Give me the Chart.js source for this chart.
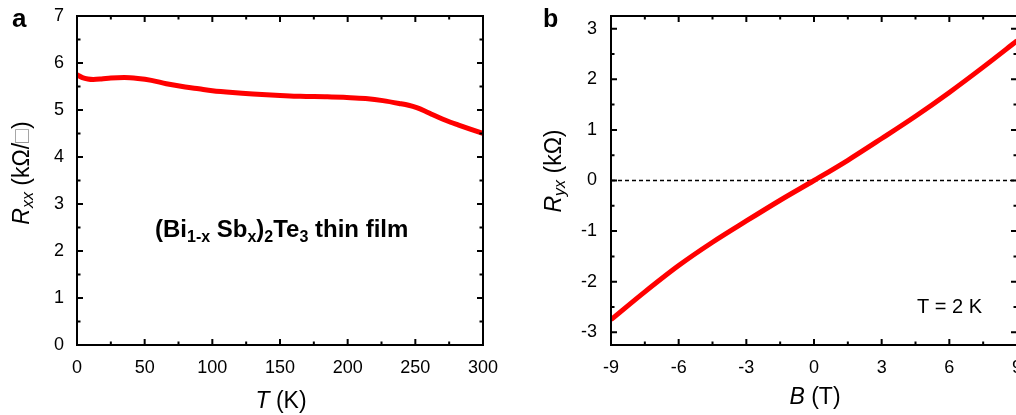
<!DOCTYPE html>
<html>
<head>
<meta charset="utf-8">
<script src="https://cdn.jsdelivr.net/npm/chart.js@4.4.1/dist/chart.umd.min.js"></script>
<style>
  html, body { margin: 0; padding: 0; background: #fff; overflow: hidden; }
  #wrap { position: relative; width: 1016px; height: 415px; overflow: hidden; }
  canvas { position: absolute; top: 0; }
  #chartA { left: 0; }
  #chartB { left: 500px; }
</style>
</head>
<body>
<div id="wrap">
  <canvas id="chartA" width="500" height="415"></canvas>
  <canvas id="chartB" width="540" height="415"></canvas>
</div>
<script>
// panel a: sheet resistance vs temperature
const tempK = [0, 4, 8, 12, 18, 25, 35, 45, 55, 66, 80, 90, 100, 115, 130, 150, 165, 185, 202, 215, 226, 238, 245, 251, 257, 263, 270, 276, 282, 290, 300];
const rxx = [5.75, 5.69, 5.66, 5.65, 5.66, 5.68, 5.69, 5.67, 5.63, 5.56, 5.49, 5.45, 5.41, 5.37, 5.34, 5.31, 5.29, 5.28, 5.26, 5.24, 5.20, 5.14, 5.10, 5.05, 4.98, 4.90, 4.81, 4.74, 4.68, 4.60, 4.50];
const tempTicks = [0, 50, 100, 150, 200, 250, 300];
const tempMinor = [25, 75, 125, 175, 225, 275];
const rxxTicks = [0, 1, 2, 3, 4, 5, 6, 7];
const rxxMinor = [0.5, 1.5, 2.5, 3.5, 4.5, 5.5, 6.5];

// panel b: Hall resistance vs field
const fieldT = [-9, -7.5, -6, -4.5, -3, -1.5, 0, 1.5, 3, 4.5, 6, 7.5, 9];
const ryx = [-2.75, -2.2, -1.68, -1.22, -0.8, -0.39, 0.0, 0.4, 0.83, 1.27, 1.74, 2.24, 2.76];
const fieldTicks = [-9, -6, -3, 0, 3, 6, 9];
const fieldMinor = [-7.5, -4.5, -1.5, 1.5, 4.5, 7.5];
const ryxTicks = [-3, -2, -1, 0, 1, 2, 3];
const ryxMinor = [-2.5, -1.5, -0.5, 0.5, 1.5, 2.5];

const FONT = '"Liberation Sans", Arial, sans-serif';

// parts: [text, font, dy, color]
function drawRich(ctx, parts, x, y, angle, align) {
  ctx.save();
  ctx.translate(x, y);
  ctx.rotate(angle || 0);
  ctx.textBaseline = 'alphabetic';
  ctx.textAlign = 'left';
  let w = 0;
  parts.forEach(p => { ctx.font = p[1]; w += ctx.measureText(p[0]).width; });
  let cx = align === 'left' ? 0 : -w / 2;
  parts.forEach(p => {
    ctx.font = p[1];
    ctx.fillStyle = p[3] || '#000';
    ctx.fillText(p[0], cx, p[2] || 0);
    cx += ctx.measureText(p[0]).width;
  });
  ctx.restore();
}

// box frame with inward ticks on all four sides
const framePlugin = {
  id: 'frame',
  afterDraw(chart, args, opts) {
    const { ctx, chartArea: a, scales } = chart;
    ctx.save();
    ctx.strokeStyle = '#000';
    ctx.lineWidth = 2;
    ctx.strokeRect(a.left, a.top, a.right - a.left, a.bottom - a.top);
    const xs = scales.x, ys = scales.y;
    const xTick = (v, len) => {
      const px = xs.getPixelForValue(v);
      ctx.beginPath();
      ctx.moveTo(px, a.bottom); ctx.lineTo(px, a.bottom - len);
      ctx.moveTo(px, a.top); ctx.lineTo(px, a.top + len);
      ctx.stroke();
    };
    const yTick = (v, len) => {
      const py = ys.getPixelForValue(v);
      ctx.beginPath();
      ctx.moveTo(a.left, py); ctx.lineTo(a.left + len, py);
      ctx.moveTo(a.right, py); ctx.lineTo(a.right - len, py);
      ctx.stroke();
    };
    xs.ticks.forEach(t => xTick(t.value, 6));
    ys.ticks.forEach(t => yTick(t.value, 6));
    opts.xMinor.forEach(v => xTick(v, 3.5));
    opts.yMinor.forEach(v => yTick(v, 3.5));
    ctx.restore();
    (opts.texts || []).forEach(t => drawRich(ctx, t.parts, t.x, t.y, t.angle, t.align));
  }
};

function axis(min, max, ticks, fixed, pad) {
  return {
    type: 'linear',
    min: min,
    max: max,
    grid: { display: false, drawTicks: false },
    border: { display: false },
    afterBuildTicks: s => { s.ticks = ticks.map(v => ({ value: v })); },
    afterFit: s => {
      if (s.isHorizontal()) s.height = fixed; else s.width = fixed;
      s.paddingTop = s.paddingBottom = s.paddingLeft = s.paddingRight = 0;
    },
    ticks: { color: '#000', padding: pad, font: { family: FONT, size: 18 }, autoSkip: false, maxRotation: 0 }
  };
}

const baseOpts = {
  responsive: false,
  animation: false,
  events: [],
  plugins: { legend: { display: false }, tooltip: { enabled: false } }
};

new Chart(document.getElementById('chartA'), {
  type: 'scatter',
  data: {
    datasets: [{
      data: tempK.map((t, i) => ({ x: t, y: rxx[i] })),
      showLine: true,
      borderColor: '#ff0000',
      borderWidth: 5,
      pointRadius: 0,
      cubicInterpolationMode: 'monotone'
    }]
  },
  options: Object.assign({}, baseOpts, {
    layout: { padding: { left: 0, top: 16, right: 17, bottom: 0 } },
    scales: {
      x: axis(0, 300, tempTicks, 70, 12),
      y: axis(0, 7, rxxTicks, 77, 13)
    },
    plugins: Object.assign({}, baseOpts.plugins, {
      frame: {
        xMinor: tempMinor,
        yMinor: rxxMinor,
        texts: [
          { parts: [['a', 'bold 26px ' + FONT]], x: 12, y: 27, align: 'left' },
          { parts: [['R', 'italic 23px ' + FONT], ['xx', 'italic 16px ' + FONT, 4], [' (k\u03a9/', '23px ' + FONT],
                    ['\u25a1', '23px ' + FONT, 0, '#999'], [')', '23px ' + FONT]], x: 29, y: 173, angle: -Math.PI / 2 },
          { parts: [['T', 'italic 23px ' + FONT], [' (K)', '23px ' + FONT]], x: 281, y: 408 },
          { parts: [
              ['(Bi', 'bold 24px ' + FONT], ['1-x', 'bold 16px ' + FONT, 5], [' Sb', 'bold 24px ' + FONT],
              ['x', 'bold 16px ' + FONT, 5], [')', 'bold 24px ' + FONT], ['2', 'bold 16px ' + FONT, 5],
              ['Te', 'bold 24px ' + FONT], ['3', 'bold 16px ' + FONT, 5], [' thin film', 'bold 24px ' + FONT]
            ], x: 155, y: 237, align: 'left' }
        ]
      }
    })
  }),
  plugins: [framePlugin]
});

new Chart(document.getElementById('chartB'), {
  type: 'scatter',
  data: {
    datasets: [{
      data: fieldT.map((b, i) => ({ x: b, y: ryx[i] })),
      showLine: true,
      borderColor: '#ff0000',
      borderWidth: 5,
      pointRadius: 0,
      cubicInterpolationMode: 'monotone'
    }, {
      data: [{ x: fieldTicks[0], y: 0 }, { x: fieldTicks[fieldTicks.length - 1], y: 0 }],
      showLine: true,
      borderColor: '#000',
      borderWidth: 1.3,
      borderDash: [4, 3],
      pointRadius: 0
    }]
  },
  options: Object.assign({}, baseOpts, {
    layout: { padding: { left: 0, top: 16, right: 23, bottom: 0 } },
    scales: {
      x: axis(-9, 9, fieldTicks, 70, 12),
      y: axis(-3.25, 3.25, ryxTicks, 111, 14)
    },
    plugins: Object.assign({}, baseOpts.plugins, {
      frame: {
        xMinor: fieldMinor,
        yMinor: ryxMinor,
        texts: [
          { parts: [['b', 'bold 25px ' + FONT]], x: 43, y: 27, align: 'left' },
          { parts: [['R', 'italic 23px ' + FONT], ['yx', 'italic 16px ' + FONT, 4], [' (k\u03a9)', '23px ' + FONT]], x: 61, y: 171, angle: -Math.PI / 2 },
          { parts: [['B', 'italic 23px ' + FONT], [' (T)', '23px ' + FONT]], x: 315, y: 404 },
          { parts: [['T = 2 K', '20px ' + FONT]], x: 417, y: 313, align: 'left' }
        ]
      }
    })
  }),
  plugins: [framePlugin]
});
</script>
</body>
</html>
